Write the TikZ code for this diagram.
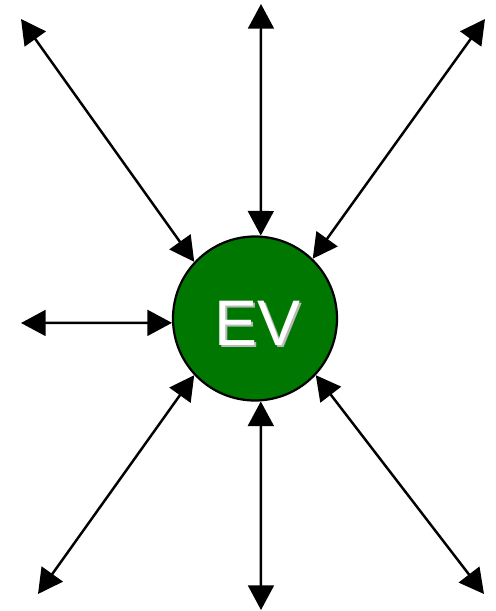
\documentclass[tikz,border=0pt]{standalone}
\usepackage{fontspec}
\setmainfont{Liberation Sans}
\usepackage{tikz}
\usetikzlibrary{arrows.meta}
\definecolor{evgreen}{RGB}{0,119,0}

\begin{document}
\begin{tikzpicture}[x=0.03cm, y=-0.03cm, line width=2.1pt,
    >={Triangle[length=21pt,width=22pt]},
    evtext/.style={font=\fontsize{55}{60}\selectfont, inner sep=0pt, text=white}]
  \useasboundingbox (0,0) rectangle (495,611);
  % the vehicle, label with a grey drop shadow
  \node[circle, draw, line width=1.9pt, fill=evgreen, minimum size=164*0.03cm,
        inner sep=0pt] (ev) at (255,318.5) {};
  \node[evtext, anchor=base west] (evlabel) at (213,345)
    {\rlap{\kern2pt\raisebox{-2pt}[0pt][0pt]{\color{gray!55}EV}}EV};
  % free ends of the links
  \coordinate (nw) at (21,19);
  \coordinate (n)  at (261,4);
  \coordinate (ne) at (485,19);
  \coordinate (w)  at (21,323);
  \coordinate (sw) at (38,594);
  \coordinate (s)  at (261,610);
  \coordinate (se) at (484,594);
  \draw[<->] (nw) -- (ev.137);
  \draw[<->] (n)  -- (ev.86);
  \draw[<->] (ne) -- (ev.46);
  \draw[<->] (w)  -- (ev.183);
  \draw[<->] (sw) -- (ev.223);
  \draw[<->] (s)  -- (ev.274);
  \draw[<->] (se) -- (ev.317);
\end{tikzpicture}
\end{document}
